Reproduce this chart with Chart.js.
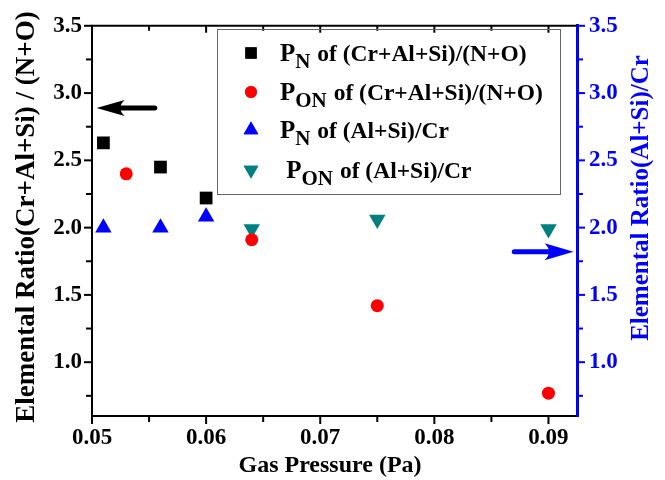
<!DOCTYPE html>
<html>
<head>
<meta charset="utf-8">
<script src="https://cdn.jsdelivr.net/npm/chart.js@4.4.0/dist/chart.umd.min.js"></script>
<style>
  html, body { margin: 0; padding: 0; background: #fff; }
  #wrap { width: 665px; height: 480px; }
</style>
</head>
<body>
<div id="wrap"><canvas id="ratioChart"></canvas></div>
<script>
// Data
const pressureN = [0.051, 0.056, 0.060];
const pressureON = [0.053, 0.064, 0.075, 0.090];
const pressureON2 = [0.064, 0.075, 0.090];
const ratioCrAlSiN = [2.63, 2.45, 2.22];
const ratioCrAlSiON = [2.40, 1.91, 1.42, 0.77];
const ratioAlSiCrN = [2.00, 2.00, 2.08];
const ratioAlSiCrON = [1.99, 2.06, 1.99];

const xTicks = [0.05, 0.06, 0.07, 0.08, 0.09];
const xMinorTicks = [0.055, 0.065, 0.075, 0.085];
const yTicks = [1.0, 1.5, 2.0, 2.5, 3.0, 3.5];
const yMinorTicks = [0.75, 1.25, 1.75, 2.25, 2.75, 3.25];

// legend text: [main, subscript, rest]
const legendLabels = [
    ['P', 'N', ' of (Cr+Al+Si)/(N+O)'],
    ['P', 'ON', ' of (Cr+Al+Si)/(N+O)'],
    ['P', 'N', ' of (Al+Si)/Cr'],
    [' P', 'ON', ' of (Al+Si)/Cr']
];

// arrows pointing at the axis each series belongs to
const leftArrow = { axis: 'y', from: [0.0555, 2.89], to: [0.0504, 2.89] };
const rightArrow = { axis: 'y1', from: [0.0870, 1.82], to: [0.0922, 1.82] };

const FAMILY = 'Liberation Serif';
const BLUE = '#0000ff';
const TEAL = '#008080';

function toPoints(xs, ys) {
    return xs.map((x, i) => ({ x: x, y: ys[i] }));
}

function boldSerif(size) {
    return 'bold ' + size + 'px "' + FAMILY + '"';
}

function drawArrow(ctx, chart, a, color, headLen, headHalf) {
    const xs = chart.scales.x, ys = chart.scales[a.axis];
    const x1 = xs.getPixelForValue(a.from[0]), y1 = ys.getPixelForValue(a.from[1]);
    const x2 = xs.getPixelForValue(a.to[0]);
    const dir = x2 > x1 ? 1 : -1;
    ctx.save();
    ctx.strokeStyle = color;
    ctx.fillStyle = color;
    ctx.lineWidth = 5;
    ctx.lineCap = 'round';
    ctx.beginPath();
    ctx.moveTo(x1, y1);
    ctx.lineTo(x2 - dir * headLen * 0.8, y1);
    ctx.stroke();
    ctx.beginPath();
    ctx.moveTo(x2, y1);
    ctx.lineTo(x2 - dir * headLen, y1 - headHalf);
    ctx.quadraticCurveTo(x2 - dir * headLen * 0.7, y1, x2 - dir * headLen, y1 + headHalf);
    ctx.closePath();
    ctx.fill();
    ctx.restore();
}

const framePlugin = {
    id: 'frame',
    afterDraw(chart) {
        const ctx = chart.ctx;
        const { left, right, top, bottom } = chart.chartArea;
        const xs = chart.scales.x, yl = chart.scales.y, yr = chart.scales.y1;

        ctx.save();
        // top frame line
        ctx.strokeStyle = '#000';
        ctx.lineWidth = 2;
        ctx.beginPath();
        ctx.moveTo(left - 1, top);
        ctx.lineTo(right, top);
        ctx.stroke();

        // x ticks (bottom outward, top inward)
        const tickX = (vals, len) => {
            vals.forEach(v => {
                const px = xs.getPixelForValue(v);
                ctx.beginPath();
                ctx.moveTo(px, bottom);
                ctx.lineTo(px, bottom + len);
                ctx.moveTo(px, top);
                ctx.lineTo(px, top + len - 1);
                ctx.stroke();
            });
        };
        tickX(xTicks, 8);
        tickX(xMinorTicks, 6);

        const tickY = (scale, vals, len, x, dir, color) => {
            ctx.strokeStyle = color;
            vals.forEach(v => {
                const py = scale.getPixelForValue(v);
                ctx.beginPath();
                ctx.moveTo(x, py);
                ctx.lineTo(x + dir * len, py);
                ctx.stroke();
            });
        };
        tickY(yl, yTicks, 8, left, -1, '#000');
        tickY(yl, yMinorTicks, 6, left, -1, '#000');
        tickY(yr, yTicks, 8, right, 1, BLUE);
        tickY(yr, yMinorTicks, 6, right, 1, BLUE);
        ctx.restore();

        drawArrow(ctx, chart, leftArrow, '#000', 28, 8);
        drawArrow(ctx, chart, rightArrow, BLUE, 29, 8.5);

        // axis titles
        ctx.save();
        ctx.font = boldSerif(24);
        ctx.fillStyle = '#000';
        ctx.textAlign = 'center';
        ctx.textBaseline = 'middle';
        ctx.fillText('Gas Pressure (Pa)', 330, 466);
        ctx.restore();

        ctx.save();
        ctx.font = boldSerif(27);
        ctx.fillStyle = '#000';
        ctx.textAlign = 'center';
        ctx.textBaseline = 'middle';
        ctx.translate(27, 217);
        ctx.rotate(-Math.PI / 2);
        ctx.fillText('Elemental Ratio(Cr+Al+Si) / (N+O)', 0, 0);
        ctx.restore();

        ctx.save();
        ctx.font = boldSerif(25);
        ctx.fillStyle = BLUE;
        ctx.textAlign = 'center';
        ctx.textBaseline = 'middle';
        ctx.translate(642, 198);
        ctx.rotate(-Math.PI / 2);
        ctx.fillText('Elemental Ratio(Al+Si)/Cr', 0, 0);
        ctx.restore();

        // legend box
        ctx.save();
        ctx.strokeStyle = '#666';
        ctx.lineWidth = 1;
        ctx.strokeRect(217.5, 29.5, 343, 165);
        const rows = [53, 92, 130, 170];
        chart.data.datasets.forEach((ds, i) => {
            const y = rows[i];
            ctx.fillStyle = ds.backgroundColor;
            Chart.helpers.drawPoint(ctx, {
                pointStyle: ds.pointStyle,
                radius: ds.legendRadius,
                rotation: ds.rotation || 0,
                borderWidth: 0
            }, 251, y);
            ctx.fill();
            const parts = legendLabels[i];
            ctx.fillStyle = '#000';
            ctx.textAlign = 'left';
            ctx.textBaseline = 'alphabetic';
            let x = 280;
            ctx.font = boldSerif(25);
            ctx.fillText(parts[0], x, y + 8);
            x += ctx.measureText(parts[0]).width;
            ctx.font = boldSerif(21);
            ctx.fillText(parts[1], x, y + 15);
            x += ctx.measureText(parts[1]).width + 1;
            ctx.font = boldSerif(23.5);
            ctx.fillText(parts[2], x, y + 8);
        });
        ctx.restore();
    }
};

const tickFont = { family: FAMILY, size: 23, weight: 'bold' };

const ratioChart = new Chart(document.getElementById('ratioChart'), {
    type: 'scatter',
    data: {
        datasets: [
            {
                label: 'PN of (Cr+Al+Si)/(N+O)',
                data: toPoints(pressureN, ratioCrAlSiN),
                pointStyle: 'rect',
                pointRadius: 9,
                legendRadius: 8,
                backgroundColor: '#000',
                borderWidth: 0,
                yAxisID: 'y'
            },
            {
                label: 'PON of (Cr+Al+Si)/(N+O)',
                data: toPoints(pressureON, ratioCrAlSiON),
                pointStyle: 'circle',
                pointRadius: 6.5,
                legendRadius: 6,
                backgroundColor: '#ff0000',
                borderWidth: 0,
                yAxisID: 'y'
            },
            {
                label: 'PN of (Al+Si)/Cr',
                data: toPoints(pressureN, ratioAlSiCrN),
                pointStyle: 'triangle',
                pointRadius: 9.5,
                legendRadius: 8.5,
                backgroundColor: BLUE,
                borderWidth: 0,
                yAxisID: 'y1'
            },
            {
                label: 'PON of (Al+Si)/Cr',
                data: toPoints(pressureON2, ratioAlSiCrON),
                pointStyle: 'triangle',
                rotation: 180,
                pointRotation: 180,
                pointRadius: 9.5,
                legendRadius: 8.5,
                backgroundColor: TEAL,
                borderWidth: 0,
                yAxisID: 'y1'
            }
        ]
    },
    options: {
        responsive: true,
        maintainAspectRatio: false,
        animation: false,
        clip: false,
        layout: { padding: { top: 18, left: 0, right: 0, bottom: 0 } },
        plugins: {
            legend: { display: false },
            tooltip: { enabled: false }
        },
        scales: {
            x: {
                type: 'linear',
                min: 0.05,
                max: 0.0925,
                afterBuildTicks: s => { s.ticks = xTicks.map(v => ({ value: v })); },
                afterFit: s => { s.height = 64; },
                grid: { display: false, drawTicks: false },
                border: { display: true, color: '#000', width: 2 },
                ticks: {
                    color: '#000',
                    font: tickFont,
                    padding: 8,
                    maxRotation: 0,
                    callback: v => v.toFixed(2)
                }
            },
            y: {
                type: 'linear',
                position: 'left',
                min: 0.6,
                max: 3.5,
                afterBuildTicks: s => { s.ticks = yTicks.map(v => ({ value: v })); },
                afterFit: s => { s.width = 92; },
                grid: { display: false, drawTicks: false },
                border: { display: true, color: '#000', width: 2 },
                ticks: {
                    color: '#000',
                    font: tickFont,
                    padding: 10,
                    callback: v => v.toFixed(1)
                }
            },
            y1: {
                type: 'linear',
                position: 'right',
                min: 0.6,
                max: 3.5,
                afterBuildTicks: s => { s.ticks = yTicks.map(v => ({ value: v })); },
                afterFit: s => { s.width = 88; },
                grid: { display: false, drawTicks: false },
                border: { display: true, color: BLUE, width: 3 },
                ticks: {
                    color: BLUE,
                    font: tickFont,
                    padding: 12,
                    callback: v => v.toFixed(1)
                }
            }
        }
    },
    plugins: [framePlugin]
});
</script>
</body>
</html>
